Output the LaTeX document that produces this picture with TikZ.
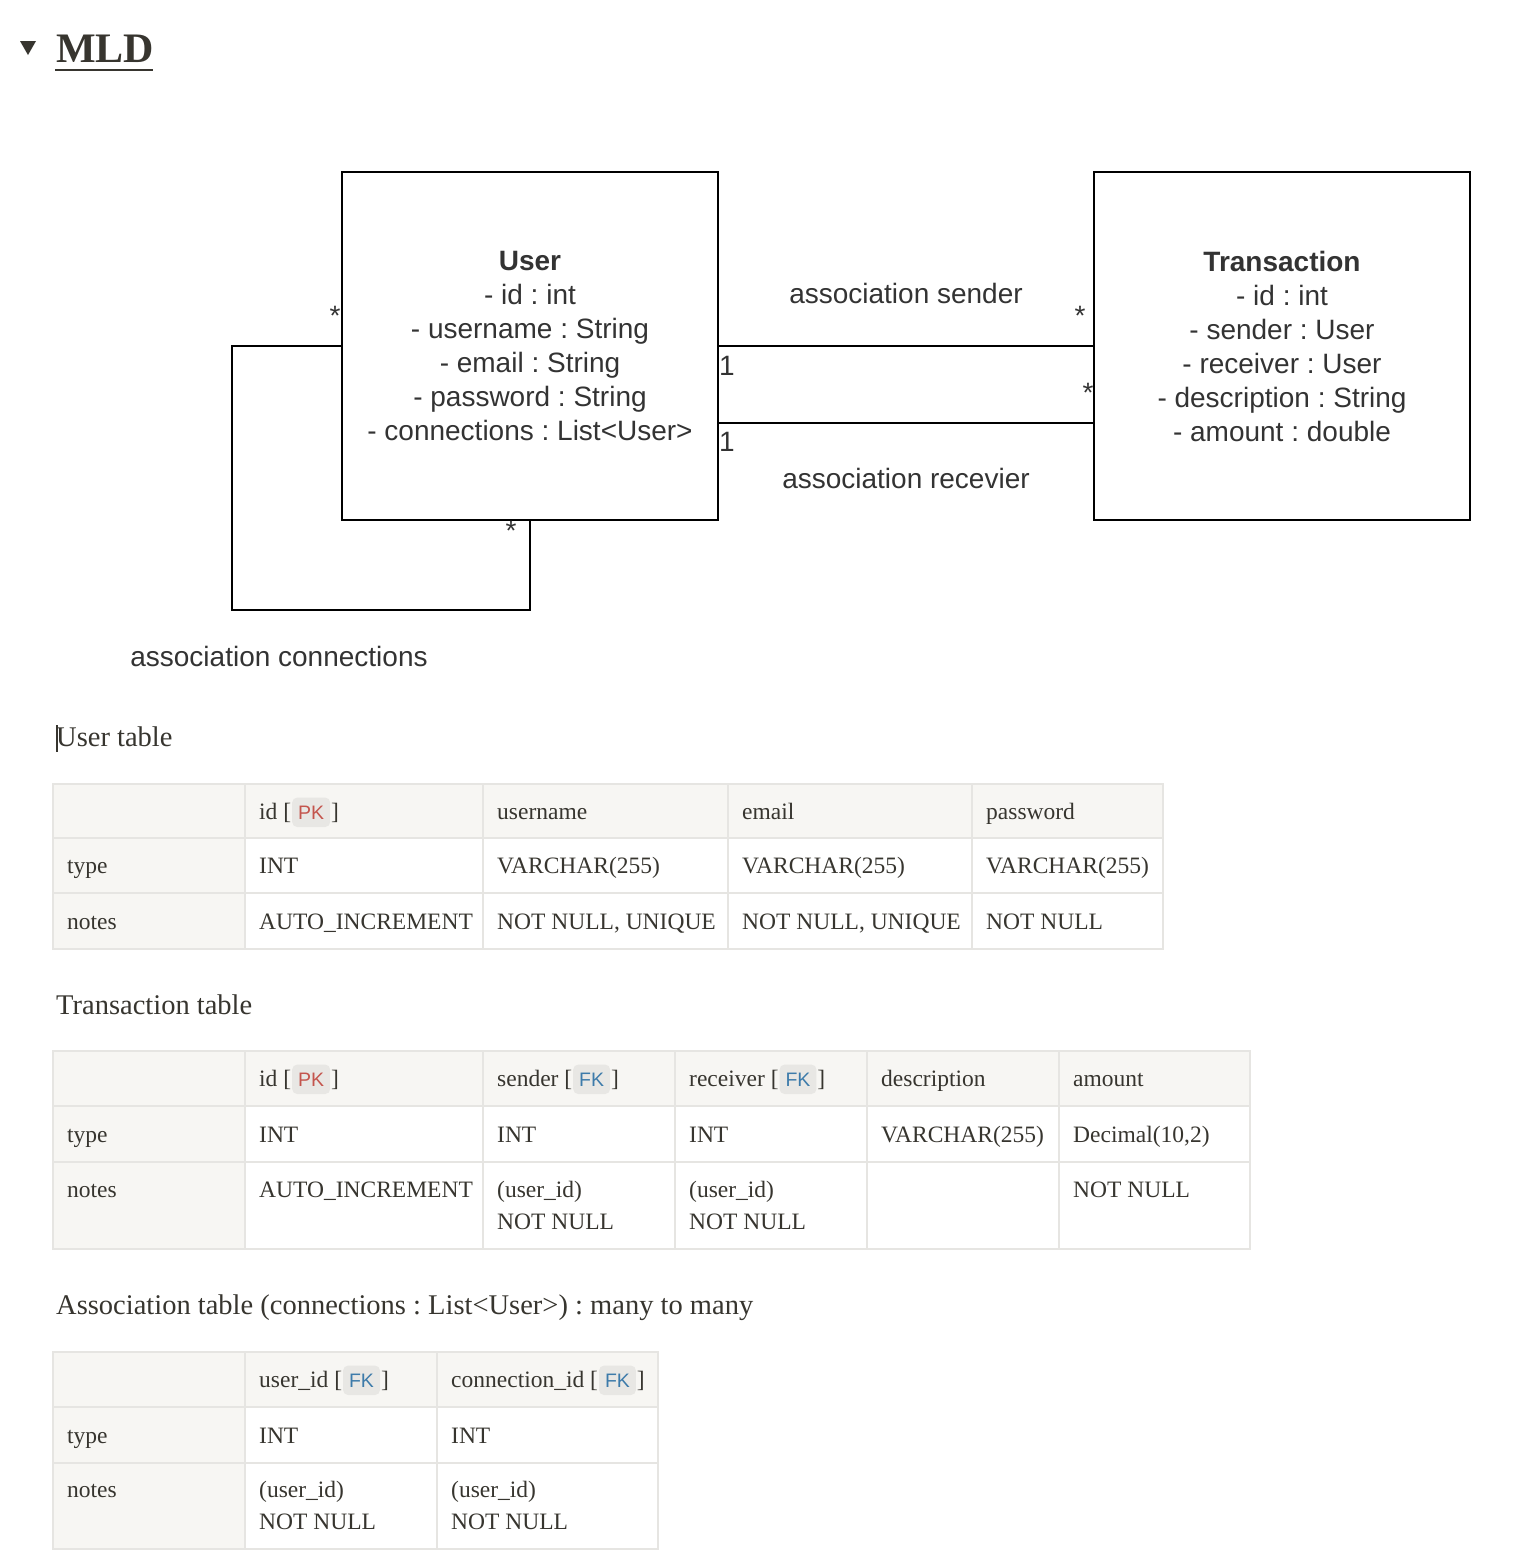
\documentclass[tikz,border=0pt]{standalone}
\usepackage{fontspec}
\setmainfont{Liberation Serif}
\newfontfamily\umlfont{Liberation Sans}
\usetikzlibrary{positioning}
\frenchspacing

\definecolor{ink}{HTML}{37352F}
\definecolor{umlink}{HTML}{333333}
\definecolor{cellgrey}{HTML}{F7F6F3}
\definecolor{rulegrey}{HTML}{E6E5E2}
\definecolor{badgebg}{HTML}{E8E7E4}
\definecolor{pkred}{HTML}{C4554D}
\definecolor{fkblue}{HTML}{3D7BAA}

\newcommand{\pk}{\tikz[baseline=(pkb.base)]\node[badge, text=pkred] (pkb) {PK};}
\newcommand{\fk}{\tikz[baseline=(fkb.base)]\node[badge, text=fkblue] (fkb) {FK};}

\begin{document}
\begin{tikzpicture}[x=1pt, y=-1pt,
        umlbox/.style={draw, line width=2.5pt, minimum width=376pt, minimum height=348pt, align=center, text=umlink, font=\umlfont\fontsize{28}{34}\selectfont},
        assoc/.style={line width=2.5pt},
        mult/.style={inner sep=0pt, text=umlink, font=\umlfont\fontsize{28}{34}\selectfont},
        assoclabel/.style={inner sep=0pt, text=umlink, font=\umlfont\fontsize{28}{34}\selectfont},
        heading/.style={anchor=base west, inner sep=0pt, text=ink, font=\fontsize{28.5}{34}\selectfont},
        cell/.style={anchor=base west, inner sep=0pt, align=left, text=ink, font=\fontsize{23.5}{32}\selectfont},
        tablerule/.style={draw=rulegrey, line width=1.2pt},
        badge/.style={fill=badgebg, rounded corners=5pt, inner xsep=6pt, inner ysep=8pt, font=\umlfont\fontsize{19.5}{20}\selectfont}
    ]
        \useasboundingbox (0,0) rectangle (1524,1564);

        % Title
        \fill[ink] (20,41) -- (36,41) -- (28,55) -- cycle;
        \node[anchor=base west, inner sep=0pt, text=ink, font=\bfseries\fontsize{42}{48}\selectfont] (title) at (56,62) {MLD};
        \draw[ink, line width=2.5pt] (title.base west) ++(-1,8) coordinate (ul) -- ++(98,0);

        % Class diagram
        \node[umlbox] (user) at (530,346) {\textbf{User}\\- id : int\\- username : String\\- email : String\\- password : String\\- connections : List<User>};
        \node[umlbox] (trans) at (1282,346) {\textbf{Transaction}\\- id : int\\- sender : User\\- receiver : User\\- description : String\\- amount : double};

        \draw[assoc] (user.east) -- (trans.west);
        \draw[assoc] ([yshift=-77pt]user.east) -- ([yshift=-77pt]trans.west);
        \coordinate (loop) at (232,610);
        \draw[assoc] (user.west) -| (loop) -| (user.south);

        \node[mult] (m1) at (335,316) {*};
        \node[mult] (m2) at (511,531) {*};
        \node[mult] (m3) at (727,366) {1};
        \node[mult] (m4) at (727,442) {1};
        \node[mult] (m5) at (1080,316) {*};
        \node[mult] (m6) at (1088,393) {*};

        \node[assoclabel] (lsender) at (906,293) {association sender};
        \node[assoclabel] (lrecv) at (906,478) {association recevier};
        \node[assoclabel] (lconn) at (279,656) {association connections};

        % User table
        \draw[ink, line width=1.5pt] (57,725) -- (57,752);
        \node[heading] (uhead) at (56,746) {User table};
        \fill[cellgrey] (53,784) rectangle (1163,838);
        \fill[cellgrey] (53,838) rectangle (245,949);
        \draw[tablerule] (53,784) rectangle (1163,949);
        \draw[tablerule] (53,838) -- (1163,838);
        \draw[tablerule] (53,893) -- (1163,893);
        \draw[tablerule] (245,784) -- (245,949);
        \draw[tablerule] (483,784) -- (483,949);
        \draw[tablerule] (728,784) -- (728,949);
        \draw[tablerule] (972,784) -- (972,949);

        \node[cell] (u11) at (259,819) {id [\kern1pt\pk\kern1pt]};
        \node[cell] (u12) at (497,819) {username};
        \node[cell] (u13) at (742,819) {email};
        \node[cell] (u14) at (986,819) {password};
        \node[cell] (u20) at (67,873) {type};
        \node[cell] (u21) at (259,873) {INT};
        \node[cell] (u22) at (497,873) {VARCHAR(255)};
        \node[cell] (u23) at (742,873) {VARCHAR(255)};
        \node[cell] (u24) at (986,873) {VARCHAR(255)};
        \node[cell] (u30) at (67,929) {notes};
        \node[cell] (u31) at (259,929) {AUTO\_INCREMENT};
        \node[cell] (u32) at (497,929) {NOT NULL, UNIQUE};
        \node[cell] (u33) at (742,929) {NOT NULL, UNIQUE};
        \node[cell] (u34) at (986,929) {NOT NULL};

        % Transaction table
        \node[heading] (thead) at (56,1014) {Transaction table};
        \fill[cellgrey] (53,1051) rectangle (1250,1106);
        \fill[cellgrey] (53,1106) rectangle (245,1249);
        \draw[tablerule] (53,1051) rectangle (1250,1249);
        \draw[tablerule] (53,1106) -- (1250,1106);
        \draw[tablerule] (53,1162) -- (1250,1162);
        \draw[tablerule] (245,1051) -- (245,1249);
        \draw[tablerule] (483,1051) -- (483,1249);
        \draw[tablerule] (675,1051) -- (675,1249);
        \draw[tablerule] (867,1051) -- (867,1249);
        \draw[tablerule] (1059,1051) -- (1059,1249);

        \node[cell] (t11) at (259,1086) {id [\kern1pt\pk\kern1pt]};
        \node[cell] (t12) at (497,1086) {sender [\kern1pt\fk\kern1pt]};
        \node[cell] (t13) at (689,1086) {receiver [\kern1pt\fk\kern1pt]};
        \node[cell] (t14) at (881,1086) {description};
        \node[cell] (t15) at (1073,1086) {amount};
        \node[cell] (t20) at (67,1142) {type};
        \node[cell] (t21) at (259,1142) {INT};
        \node[cell] (t22) at (497,1142) {INT};
        \node[cell] (t23) at (689,1142) {INT};
        \node[cell] (t24) at (881,1142) {VARCHAR(255)};
        \node[cell] (t25) at (1073,1142) {Decimal(10,2)};
        \node[cell] (t30) at (67,1197) {notes};
        \node[cell] (t31) at (259,1197) {AUTO\_INCREMENT};
        \node[cell] (t32) at (497,1229) {(user\_id)\\NOT NULL};
        \node[cell] (t33) at (689,1229) {(user\_id)\\NOT NULL};
        \node[cell] (t35) at (1073,1197) {NOT NULL};

        % Association table
        \node[heading] (ahead) at (56,1314) {Association table (connections : List<User>) : many to many};
        \fill[cellgrey] (53,1352) rectangle (658,1407);
        \fill[cellgrey] (53,1407) rectangle (245,1549);
        \draw[tablerule] (53,1352) rectangle (658,1549);
        \draw[tablerule] (53,1407) -- (658,1407);
        \draw[tablerule] (53,1463) -- (658,1463);
        \draw[tablerule] (245,1352) -- (245,1549);
        \draw[tablerule] (437,1352) -- (437,1549);

        \node[cell] (a11) at (259,1387) {user\_id [\kern1pt\fk\kern1pt]};
        \node[cell] (a12) at (451,1387) {connection\_id [\kern1pt\fk\kern1pt]};
        \node[cell] (a20) at (67,1443) {type};
        \node[cell] (a21) at (259,1443) {INT};
        \node[cell] (a22) at (451,1443) {INT};
        \node[cell] (a30) at (67,1497) {notes};
        \node[cell] (a31) at (259,1529) {(user\_id)\\NOT NULL};
        \node[cell] (a32) at (451,1529) {(user\_id)\\NOT NULL};

    \end{tikzpicture}
\end{document}
